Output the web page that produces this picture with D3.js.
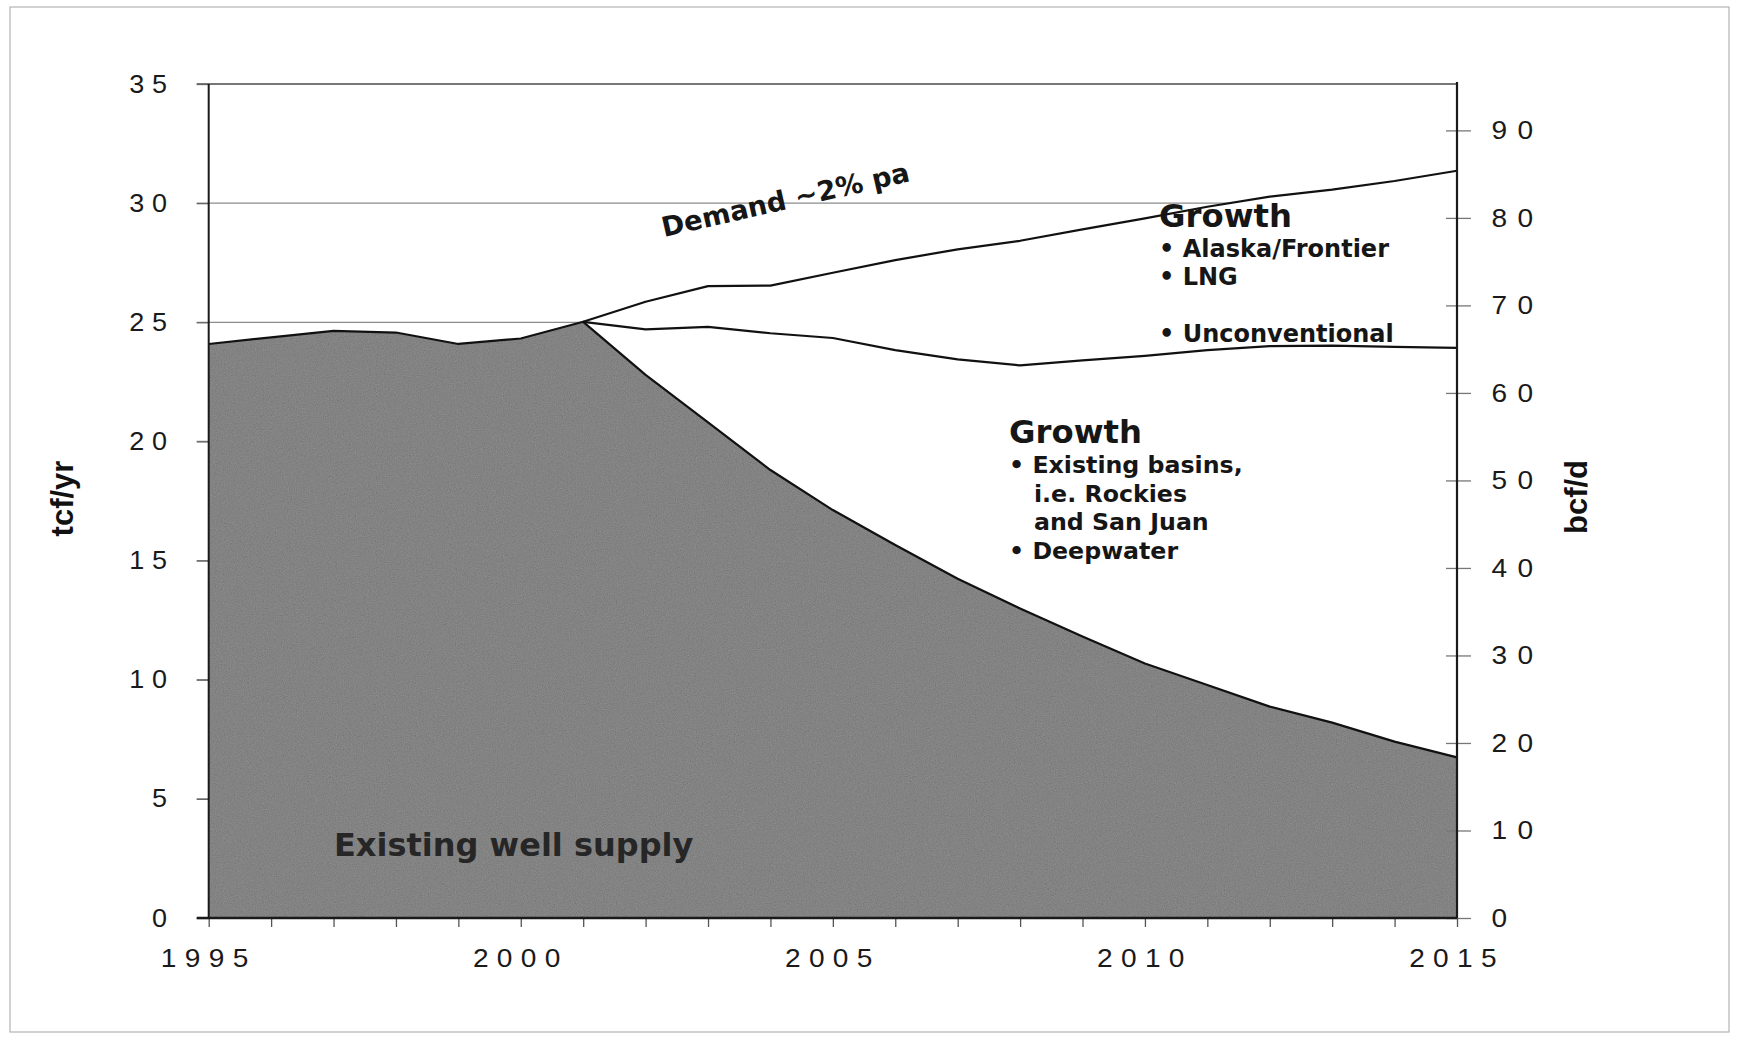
<!DOCTYPE html>
<html>
<head>
<meta charset="utf-8">
<script src="https://cdn.jsdelivr.net/npm/d3@7"></script>
<style>
  html, body { margin: 0; padding: 0; background: #fff; }
  svg { display: block; }
</style>
</head>
<body>
<svg id="chart" width="1741" height="1039"></svg>
<script>
// US gas supply outlook: existing well supply vs. demand growth (tcf/yr)
const years = [1995, 1996, 1997, 1998, 1999, 2000, 2001, 2002, 2003, 2004, 2005,
               2006, 2007, 2008, 2009, 2010, 2011, 2012, 2013, 2014, 2015];
const existingSupply = [24.09, 24.37, 24.64, 24.57, 24.09, 24.32, 25.02, 22.79, 20.80, 18.80, 17.12,
                        15.65, 14.24, 12.99, 11.81, 10.68, 9.78, 8.87, 8.20, 7.40, 6.74];

const growthYears = [2001, 2002, 2003, 2004, 2005, 2006, 2007, 2008,
                     2009, 2010, 2011, 2012, 2013, 2014, 2015];
// existing supply + growth from existing basins / deepwater
const supplyInclBasins = [25.02, 24.70, 24.81, 24.54, 24.34, 23.83, 23.44, 23.19,
                          23.40, 23.59, 23.83, 24.00, 24.02, 23.97, 23.93];
// total demand, ~2% per annum
const demand = [25.02, 25.86, 26.52, 26.54, 27.08, 27.61, 28.06, 28.42,
                28.90, 29.36, 29.85, 30.27, 30.57, 30.93, 31.36];

const tcfTicks = [0, 5, 10, 15, 20, 25, 30, 35];
const bcfTicks = [0, 10, 20, 30, 40, 50, 60, 70, 80, 90];
const yearLabels = [1995, 2000, 2005, 2010, 2015];
const tcfMax = 35;
const bcfMax = 95.3;   // 35 tcf/yr expressed in bcf/d

const svg = d3.select("#chart");
const W = 1741, H = 1039;
const plot = { left: 208.7, right: 1457, top: 84, bottom: 918 };

const x = d3.scaleLinear().domain([1995, 2015]).range([plot.left, plot.right]);
const y = d3.scaleLinear().domain([0, tcfMax]).range([plot.bottom, plot.top]);
const y2 = d3.scaleLinear().domain([0, bcfMax]).range([plot.bottom, plot.top]);

const tickFont = "'Liberation Sans', Arial, sans-serif";
const noteFont = "'DejaVu Sans', Verdana, sans-serif";
const sx = 1.08; // slightly wide tick lettering

// page frame
svg.append("rect")
  .attr("x", 10).attr("y", 7).attr("width", W - 22).attr("height", H - 14)
  .attr("fill", "none").attr("stroke", "#b4b4b4").attr("stroke-width", 1.2);

// grain for the shaded supply area
const defs = svg.append("defs");
const grain = defs.append("filter").attr("id", "grain")
  .attr("filterUnits", "userSpaceOnUse")
  .attr("x", 0).attr("y", 0).attr("width", W).attr("height", H);
grain.append("feTurbulence").attr("type", "fractalNoise")
  .attr("baseFrequency", 0.85).attr("numOctaves", 2).attr("seed", 7).attr("result", "noise");
grain.append("feColorMatrix").attr("in", "noise").attr("type", "matrix")
  .attr("values", "0.33 0.33 0.33 0 0  0.33 0.33 0.33 0 0  0.33 0.33 0.33 0 0  0 0 0 0 1")
  .attr("result", "gray");
grain.append("feComposite").attr("in", "SourceGraphic").attr("in2", "gray")
  .attr("operator", "arithmetic").attr("k1", 0).attr("k2", 1).attr("k3", 0.22).attr("k4", -0.11)
  .attr("result", "mix");
grain.append("feComposite").attr("in", "mix").attr("in2", "SourceAlpha").attr("operator", "in");

// horizontal gridlines (hidden where the stacked areas cover them)
svg.append("g").selectAll("line")
  .data(tcfTicks.filter(d => d > 0 && d < tcfMax))
  .join("line")
  .attr("x1", plot.left - 12).attr("x2", plot.right)
  .attr("y1", d => y(d)).attr("y2", d => y(d))
  .attr("stroke", "#8c8c8c").attr("stroke-width", 1.3);

// top frame line at 35
svg.append("line")
  .attr("x1", plot.left - 12).attr("x2", plot.right)
  .attr("y1", y(tcfMax)).attr("y2", y(tcfMax))
  .attr("stroke", "#777").attr("stroke-width", 1.8);

const existing = years.map((yr, i) => ({ yr, v: existingSupply[i] }));
const growth = growthYears.map((yr, i) => ({
  yr,
  base: existingSupply[years.indexOf(yr)],
  mid: supplyInclBasins[i],
  top: demand[i]
}));

// growth wedge (white, covers gridlines)
svg.append("path")
  .datum(growth)
  .attr("d", d3.area().x(d => x(d.yr)).y0(d => y(d.base)).y1(d => y(d.top)))
  .attr("fill", "#fff");

// existing well supply area
svg.append("path")
  .datum(existing)
  .attr("d", d3.area().x(d => x(d.yr)).y0(y(0)).y1(d => y(d.v)))
  .attr("fill", "#838383")
  .attr("filter", "url(#grain)");

// outlines
const lineStyle = sel => sel.attr("fill", "none").attr("stroke", "#111")
  .attr("stroke-width", 2.2).attr("stroke-linejoin", "round");
svg.append("path").datum(existing)
  .attr("d", d3.line().x(d => x(d.yr)).y(d => y(d.v))).call(lineStyle);
svg.append("path").datum(growth)
  .attr("d", d3.line().x(d => x(d.yr)).y(d => y(d.mid))).call(lineStyle);
svg.append("path").datum(growth)
  .attr("d", d3.line().x(d => x(d.yr)).y(d => y(d.top))).call(lineStyle);

// left axis (tcf/yr)
const gLeft = svg.append("g").attr("transform", `translate(${plot.left},0)`)
  .call(d3.axisLeft(y).tickValues(tcfTicks).tickSize(12).tickFormat(""));
gLeft.select(".domain").remove();
gLeft.selectAll(".tick line").attr("stroke", "#666").attr("stroke-width", 1.3);
gLeft.selectAll(".tick").append("text")
  .attr("transform", `scale(${sx},1)`)
  .attr("x", -34 / sx).attr("dy", 8)
  .attr("text-anchor", "end")
  .attr("fill", "#1a1a1a")
  .style("font-family", tickFont).style("font-size", "25px").style("letter-spacing", "7.2px")
  .text(d => d);
svg.append("line")
  .attr("x1", plot.left).attr("x2", plot.left)
  .attr("y1", plot.top).attr("y2", plot.bottom)
  .attr("stroke", "#1a1a1a").attr("stroke-width", 2);

// right axis (bcf/d)
const gRight = svg.append("g").attr("transform", `translate(${plot.right},0)`)
  .call(d3.axisRight(y2).tickValues(bcfTicks).tickSize(14).tickFormat(""));
gRight.select(".domain").remove();
gRight.selectAll(".tick line").attr("x1", -11).attr("stroke", "#777").attr("stroke-width", 1.3);
gRight.selectAll(".tick").append("text")
  .attr("transform", `scale(${sx},1)`)
  .attr("x", 34.5 / sx).attr("dy", 8.3)
  .attr("text-anchor", "start")
  .attr("fill", "#1a1a1a")
  .style("font-family", tickFont).style("font-size", "26px").style("letter-spacing", "9.7px")
  .text(d => d);
svg.append("line")
  .attr("x1", plot.right).attr("x2", plot.right)
  .attr("y1", plot.top - 2).attr("y2", plot.bottom)
  .attr("stroke", "#1a1a1a").attr("stroke-width", 2.2);

// bottom axis (years)
const gBottom = svg.append("g").attr("transform", `translate(0,${plot.bottom})`)
  .call(d3.axisBottom(x).tickValues(years).tickSize(9).tickFormat(""));
gBottom.select(".domain").remove();
gBottom.selectAll(".tick line").attr("stroke", "#555").attr("stroke-width", 1.3);
svg.append("g").selectAll("text")
  .data(yearLabels)
  .join("text")
  .attr("transform", d => `translate(${x(d)},967) scale(${sx},1)`)
  .attr("text-anchor", "middle")
  .attr("fill", "#1a1a1a")
  .style("font-family", tickFont).style("font-size", "26px").style("letter-spacing", "7.7px")
  .text(d => d);
svg.append("line")
  .attr("x1", plot.left - 12).attr("x2", plot.right)
  .attr("y1", plot.bottom).attr("y2", plot.bottom)
  .attr("stroke", "#1a1a1a").attr("stroke-width", 2.6);

// axis titles
svg.append("text")
  .attr("transform", "translate(73,498.5) rotate(-90)")
  .attr("text-anchor", "middle").attr("fill", "#111")
  .style("font-family", tickFont).style("font-weight", "bold").style("font-size", "31px")
  .text("tcf/yr");
svg.append("text")
  .attr("transform", "translate(1587,497) rotate(-90)")
  .attr("text-anchor", "middle").attr("fill", "#111")
  .style("font-family", tickFont).style("font-weight", "bold").style("font-size", "31px")
  .text("bcf/d");

// annotations
const note = (sel) => sel.attr("fill", "#161616")
  .style("font-family", noteFont).style("font-weight", "bold");

svg.append("text")
  .attr("transform", "translate(664,237) rotate(-12.8)")
  .call(note).style("font-size", "27.3px")
  .text("Demand ~2% pa");

const upper = svg.append("text").call(note);
upper.append("tspan").attr("x", 1159).attr("y", 227).style("font-size", "32.3px").text("Growth");
upper.append("tspan").attr("x", 1159).attr("y", 257).style("font-size", "24px").text("• Alaska/Frontier");
upper.append("tspan").attr("x", 1159).attr("y", 285).style("font-size", "24px").text("• LNG");
upper.append("tspan").attr("x", 1159).attr("y", 342).style("font-size", "24px").text("• Unconventional");

const lower = svg.append("text").call(note);
lower.append("tspan").attr("x", 1009).attr("y", 443).style("font-size", "32.3px").text("Growth");
lower.append("tspan").attr("x", 1009).attr("y", 473).style("font-size", "23.7px").text("• Existing basins,");
lower.append("tspan").attr("x", 1034).attr("y", 502).style("font-size", "23.7px").text("i.e. Rockies");
lower.append("tspan").attr("x", 1034).attr("y", 530).style("font-size", "23.7px").text("and San Juan");
lower.append("tspan").attr("x", 1009).attr("y", 559).style("font-size", "23.7px").text("• Deepwater");

svg.append("text")
  .attr("x", 334).attr("y", 856)
  .attr("fill", "#262626")
  .style("font-family", noteFont).style("font-weight", "bold").style("font-size", "32px")
  .text("Existing well supply");
</script>
</body>
</html>
